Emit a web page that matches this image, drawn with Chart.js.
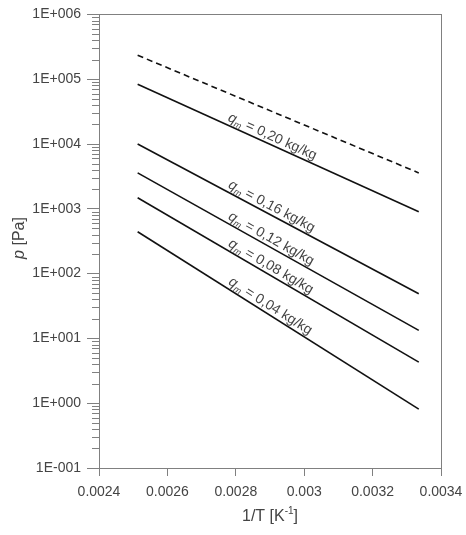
<!DOCTYPE html>
<html>
<head>
<meta charset="utf-8">
<script src="https://cdn.jsdelivr.net/npm/chart.js@4.4.1/dist/chart.umd.min.js"></script>
<style>
    html, body { margin: 0; padding: 0; background: #fff; }
    #wrap { width: 466px; height: 535px; }
</style>
</head>
<body>
<div id="wrap"><canvas id="chart" width="466" height="535"></canvas></div>
<script>
// 1/T range of the curves (≈398 K .. 300 K)
const invT = [0.002513, 0.003335];

// pressure at both ends of each curve [Pa]
const pDashed = [234000, 3580];
const p020 = [83800, 900];
const p016 = [10000, 49];
const p012 = [3580, 13.3];
const p008 = [1480, 4.3];
const p004 = [443, 0.81];

const curveLabels = ['0,20', '0,16', '0,12', '0,08', '0,04'];

const xTicks = [0.0024, 0.0026, 0.0028, 0.003, 0.0032, 0.0034];
const yTicks = [0.1, 1, 10, 100, 1000, 10000, 100000, 1000000];

const FONT = '"Liberation Sans", Arial, sans-serif';
const TEXT = '#444';
const AXIS = '#808080';

function toPoints(ys) {
    return invT.map((x, i) => ({ x: x, y: ys[i] }));
}

function sciLabel(v) {
    const e = Math.round(Math.log10(v));
    const sign = e < 0 ? '-' : '+';
    return '1E' + sign + String(Math.abs(e)).padStart(3, '0');
}

function lineDs(ys, dashed) {
    return {
        data: toPoints(ys),
        borderColor: '#111',
        borderWidth: 1.6,
        borderDash: dashed ? [6, 4] : [],
        pointRadius: 0,
        fill: false,
        tension: 0
    };
}

// frame, minor ticks, curve labels and axis titles
const decorPlugin = {
    id: 'decor',
    afterDraw(chart) {
        const ctx = chart.ctx;
        const a = chart.chartArea;
        const xs = chart.scales.x;
        const ys = chart.scales.y;

        ctx.save();
        ctx.strokeStyle = AXIS;
        ctx.lineWidth = 1;
        ctx.strokeRect(Math.round(a.left) + 0.5, Math.round(a.top) + 0.5,
            Math.round(a.right - a.left), Math.round(a.bottom - a.top));

        // minor log ticks on the left side
        ctx.beginPath();
        for (let d = 0; d < yTicks.length - 1; d++) {
            for (let m = 2; m <= 9; m++) {
                const py = Math.round(ys.getPixelForValue(yTicks[d] * m)) + 0.5;
                ctx.moveTo(a.left - 7, py);
                ctx.lineTo(a.left, py);
            }
        }
        ctx.stroke();

        // curve labels along the lines
        ctx.fillStyle = TEXT;
        ctx.textBaseline = 'alphabetic';
        const labelX = 0.00277;
        const sets = chart.data.datasets.slice(1);
        sets.forEach((ds, i) => {
            const p0 = ds.data[0], p1 = ds.data[1];
            const x0 = xs.getPixelForValue(p0.x), y0 = ys.getPixelForValue(p0.y);
            const x1 = xs.getPixelForValue(p1.x), y1 = ys.getPixelForValue(p1.y);
            const ang = Math.atan2(y1 - y0, x1 - x0);
            const px = xs.getPixelForValue(labelX);
            const py = y0 + (px - x0) * (y1 - y0) / (x1 - x0);
            ctx.save();
            ctx.translate(px, py);
            ctx.rotate(ang);
            ctx.translate(0, -4);
            ctx.font = 'italic 14px ' + FONT;
            ctx.fillText('q', 0, 0);
            let w = ctx.measureText('q').width;
            ctx.font = 'italic 9px ' + FONT;
            ctx.fillText('m', w, 3);
            w += ctx.measureText('m').width;
            ctx.font = '14px ' + FONT;
            ctx.fillText(' = ' + curveLabels[i] + ' kg/kg', w, 0);
            ctx.restore();
        });

        // x title: 1/T [K^-1]
        ctx.fillStyle = TEXT;
        ctx.font = '16px ' + FONT;
        const t1 = '1/T [K', sup = '-1', t2 = ']';
        const w1 = ctx.measureText(t1).width;
        const w3 = ctx.measureText(t2).width;
        ctx.font = '10px ' + FONT;
        const w2 = ctx.measureText(sup).width;
        let sx = (a.left + a.right) / 2 - (w1 + w2 + w3) / 2;
        const by = 521;
        ctx.font = '16px ' + FONT;
        ctx.fillText(t1, sx, by);
        ctx.font = '10px ' + FONT;
        ctx.fillText(sup, sx + w1, by - 7);
        ctx.font = '16px ' + FONT;
        ctx.fillText(t2, sx + w1 + w2, by);

        // y title: p [Pa]
        ctx.save();
        ctx.translate(24, 238);
        ctx.rotate(-Math.PI / 2);
        ctx.textAlign = 'left';
        ctx.font = 'italic 16px ' + FONT;
        const wp = ctx.measureText('p').width;
        ctx.font = '16px ' + FONT;
        const wr = ctx.measureText(' [Pa]').width;
        const start = -(wp + wr) / 2;
        ctx.font = 'italic 16px ' + FONT;
        ctx.fillText('p', start, 0);
        ctx.font = '16px ' + FONT;
        ctx.fillText(' [Pa]', start + wp, 0);
        ctx.restore();

        ctx.restore();
    }
};

new Chart(document.getElementById('chart'), {
    type: 'line',
    data: {
        datasets: [
            lineDs(pDashed, true),
            lineDs(p020),
            lineDs(p016),
            lineDs(p012),
            lineDs(p008),
            lineDs(p004)
        ]
    },
    options: {
        responsive: false,
        animation: false,
        layout: { padding: { top: 13, right: 25, left: 0, bottom: 0 } },
        plugins: { legend: { display: false }, tooltip: { enabled: false } },
        scales: {
            x: {
                type: 'linear',
                min: 0.0024,
                max: 0.0034,
                afterBuildTicks: s => { s.ticks = xTicks.map(v => ({ value: v })); },
                afterFit: s => {
                    s.height = 67;
                    s.paddingLeft = 0;
                    s.paddingRight = 0;
                },
                grid: { drawOnChartArea: false, tickLength: 8, color: AXIS },
                border: { color: AXIS },
                ticks: {
                    autoSkip: false,
                    maxRotation: 0,
                    padding: 8,
                    color: TEXT,
                    font: { family: FONT, size: 14 },
                    callback: v => String(parseFloat(Number(v).toFixed(4)))
                }
            },
            y: {
                type: 'logarithmic',
                min: 0.1,
                max: 1000000,
                afterBuildTicks: s => { s.ticks = yTicks.map(v => ({ value: v, major: true })); },
                afterFit: s => { s.width = 99; },
                grid: { drawOnChartArea: false, tickLength: 12, color: AXIS },
                border: { color: AXIS },
                ticks: {
                    autoSkip: false,
                    padding: 6,
                    color: TEXT,
                    font: { family: FONT, size: 14 },
                    callback: v => sciLabel(v)
                }
            }
        }
    },
    plugins: [decorPlugin]
});
</script>
</body>
</html>
